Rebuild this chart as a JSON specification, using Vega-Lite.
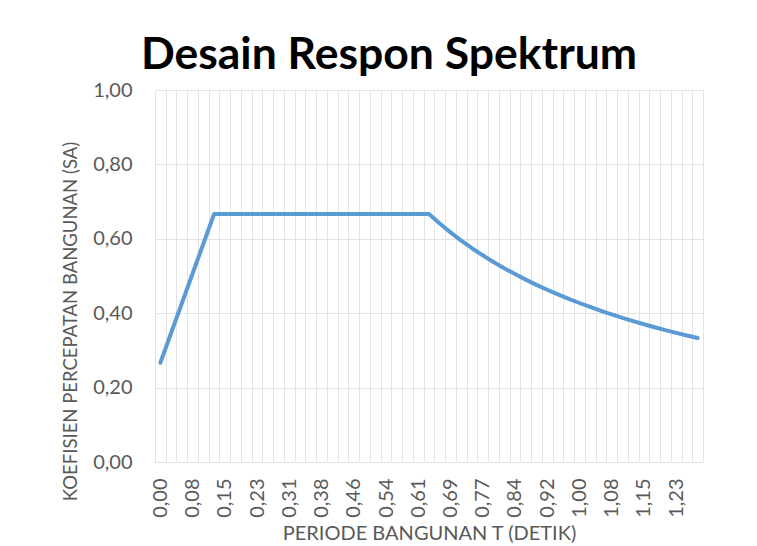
{
  "$schema": "https://vega.github.io/schema/vega-lite/v6.json",
  "autosize": "none",
  "width": 548,
  "height": 372,
  "padding": {"left": 155, "top": 90, "right": 54, "bottom": 84},
  "background": "white",
  "title": {
    "text": "Desain Respon Spektrum",
    "font": "Lato",
    "fontSize": 44.5,
    "fontWeight": "bold",
    "color": "#000000",
    "anchor": "middle",
    "frame": "group",
    "dx": -40,
    "dy": 46,
    "baseline": "alphabetic",
    "offset": 13
  },
  "config": {
    "view": {"stroke": "#e3e3e3", "strokeWidth": 1},
    "font": "Lato"
  },
  "data": {
    "values": [
      {"T": 0.0, "Sa": 0.2667},
      {"T": 0.0256, "Sa": 0.3467},
      {"T": 0.0512, "Sa": 0.4267},
      {"T": 0.0768, "Sa": 0.5067},
      {"T": 0.1024, "Sa": 0.5867},
      {"T": 0.128, "Sa": 0.6667},
      {"T": 0.1536, "Sa": 0.6667},
      {"T": 0.1792, "Sa": 0.6667},
      {"T": 0.2048, "Sa": 0.6667},
      {"T": 0.2304, "Sa": 0.6667},
      {"T": 0.256, "Sa": 0.6667},
      {"T": 0.2816, "Sa": 0.6667},
      {"T": 0.3072, "Sa": 0.6667},
      {"T": 0.3328, "Sa": 0.6667},
      {"T": 0.3584, "Sa": 0.6667},
      {"T": 0.384, "Sa": 0.6667},
      {"T": 0.4096, "Sa": 0.6667},
      {"T": 0.4352, "Sa": 0.6667},
      {"T": 0.4608, "Sa": 0.6667},
      {"T": 0.4864, "Sa": 0.6667},
      {"T": 0.512, "Sa": 0.6667},
      {"T": 0.5376, "Sa": 0.6667},
      {"T": 0.5632, "Sa": 0.6667},
      {"T": 0.5888, "Sa": 0.6667},
      {"T": 0.6144, "Sa": 0.6667},
      {"T": 0.64, "Sa": 0.6667},
      {"T": 0.6656, "Sa": 0.6410},
      {"T": 0.6912, "Sa": 0.6173},
      {"T": 0.7168, "Sa": 0.5952},
      {"T": 0.7424, "Sa": 0.5747},
      {"T": 0.768, "Sa": 0.5556},
      {"T": 0.7936, "Sa": 0.5376},
      {"T": 0.8192, "Sa": 0.5208},
      {"T": 0.8448, "Sa": 0.5051},
      {"T": 0.8704, "Sa": 0.4902},
      {"T": 0.896, "Sa": 0.4762},
      {"T": 0.9216, "Sa": 0.4630},
      {"T": 0.9472, "Sa": 0.4505},
      {"T": 0.9728, "Sa": 0.4386},
      {"T": 0.9984, "Sa": 0.4274},
      {"T": 1.024, "Sa": 0.4167},
      {"T": 1.0496, "Sa": 0.4065},
      {"T": 1.0752, "Sa": 0.3968},
      {"T": 1.1008, "Sa": 0.3876},
      {"T": 1.1264, "Sa": 0.3788},
      {"T": 1.152, "Sa": 0.3704},
      {"T": 1.1776, "Sa": 0.3623},
      {"T": 1.2032, "Sa": 0.3546},
      {"T": 1.2288, "Sa": 0.3472},
      {"T": 1.2544, "Sa": 0.3401},
      {"T": 1.28, "Sa": 0.3333}
    ]
  },
  "mark": {"type": "line", "color": "#5B9BD5", "strokeWidth": 4, "strokeJoin": "round", "strokeCap": "round"},
  "encoding": {
    "x": {
      "field": "T",
      "type": "ordinal",
      "scale": {"type": "point", "padding": 0.5},
      "axis": {
        "title": "PERIODE BANGUNAN T (DETIK)",
        "titleFont": "Lato",
        "titleFontSize": 20,
        "titleFontWeight": "normal",
        "titleColor": "#595959",
        "titleX": 274,
        "titleY": 77,
        "titleAlign": "center",
        "titleBaseline": "alphabetic",
        "labelAngle": 270,
        "labelFont": "Lato",
        "labelFontSize": 20,
        "labelColor": "#595959",
        "labelPadding": 16,
        "labelOverlap": false,
        "labelExpr": "round(datum.value / 0.0256) % 3 == 0 ? replace(format(datum.value, '.2f'), '.', ',') : ''",
        "tickOffset": -5.373,
        "labelOffset": 5.373,
        "ticks": false,
        "domain": false,
        "grid": true,
        "gridColor": "#e3e3e3",
        "gridWidth": 1
      }
    },
    "y": {
      "field": "Sa",
      "type": "quantitative",
      "scale": {"domain": [0, 1], "nice": false, "zero": true},
      "axis": {
        "title": "KOEFISIEN PERCEPATAN BANGUNAN (SA)",
        "titleFont": "Lato",
        "titleFontSize": 18.5,
        "titleFontWeight": "normal",
        "titleColor": "#595959",
        "titleAngle": 270,
        "titleX": -85,
        "titleY": 231,
        "titleAlign": "center",
        "titleBaseline": "middle",
        "values": [0, 0.2, 0.4, 0.6, 0.8, 1.0],
        "labelExpr": "replace(format(datum.value, '.2f'), '.', ',')",
        "labelFont": "Lato",
        "labelFontSize": 20,
        "labelColor": "#595959",
        "labelPadding": 23,
        "ticks": false,
        "domain": false,
        "grid": true,
        "gridColor": "#e3e3e3",
        "gridWidth": 1
      }
    }
  }
}
